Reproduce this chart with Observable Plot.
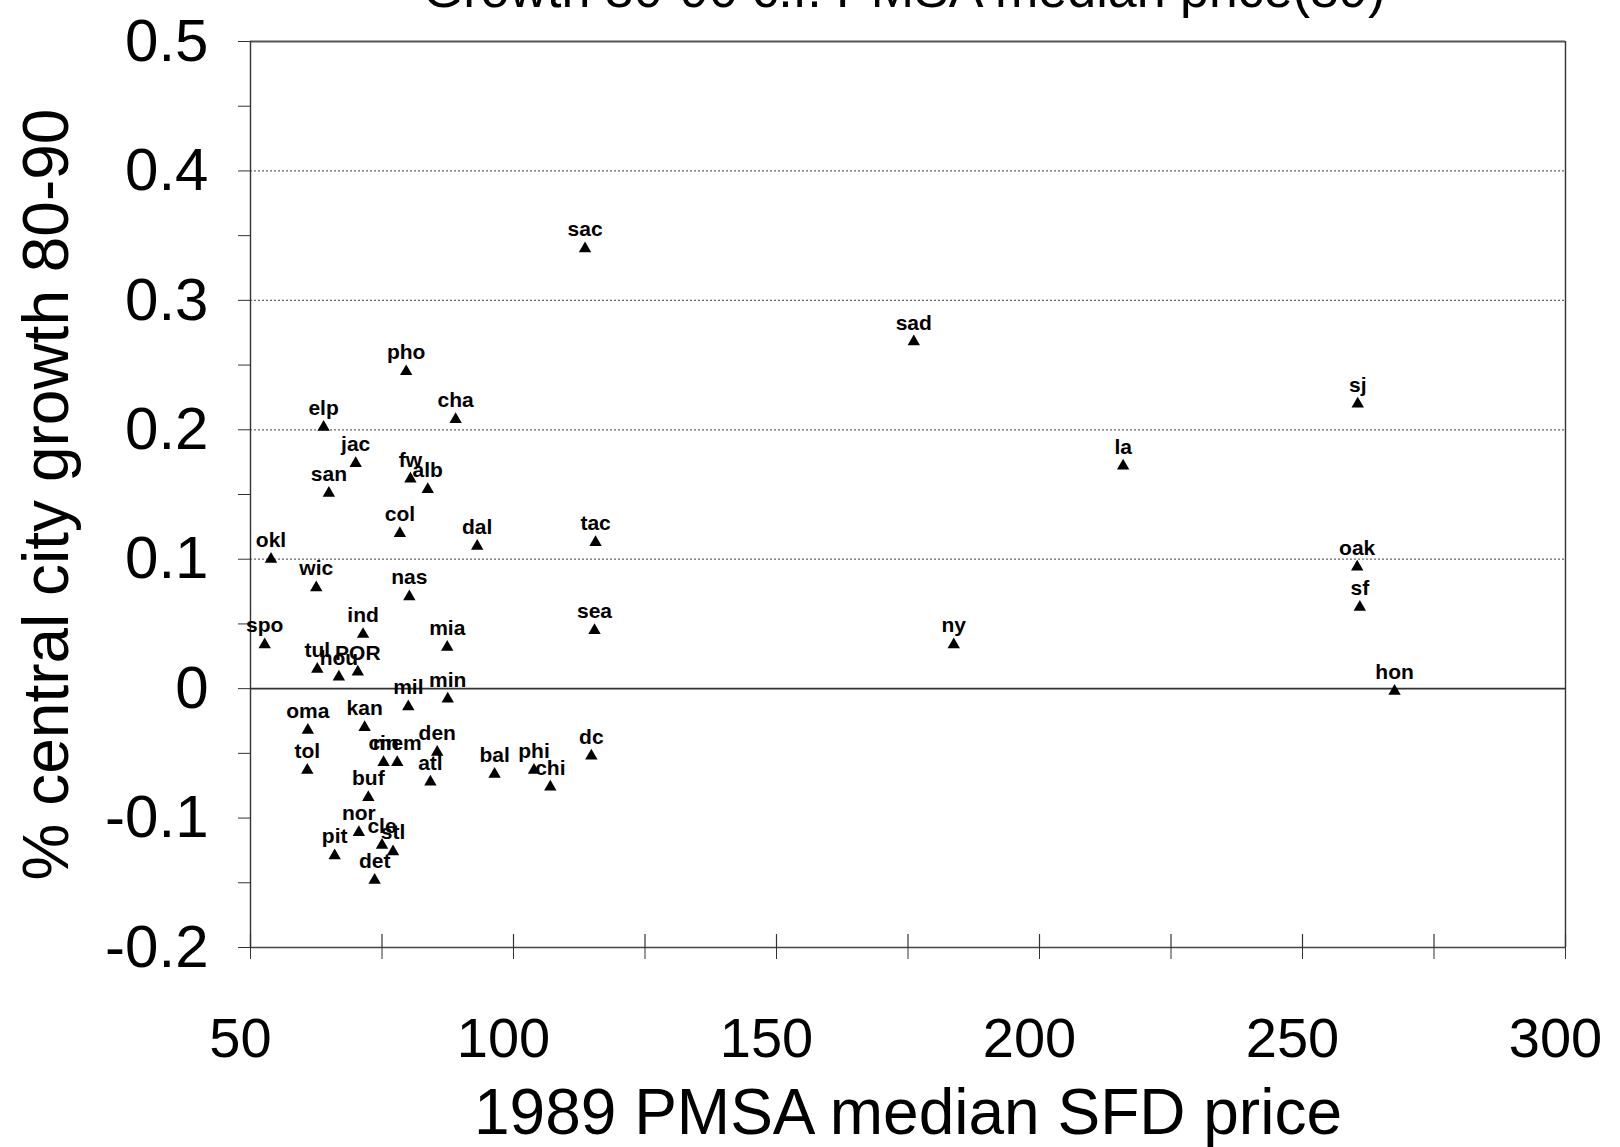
<!DOCTYPE html>
<html><head><meta charset="utf-8">
<script src="https://cdn.jsdelivr.net/npm/d3@7"></script>
<script src="https://cdn.jsdelivr.net/npm/@observablehq/plot@0.6"></script>
<style>
body{margin:0;background:#fff;overflow:hidden}
#wrap{position:relative;width:1620px;height:1147px;overflow:hidden;background:#fff}
#title{position:absolute;z-index:2;top:-37px;left:904px;transform:translateX(-50%);white-space:nowrap;font-family:'Liberation Sans',Arial,sans-serif;font-size:52px;line-height:52px;color:#000}
#chart{position:absolute;z-index:1;top:0;left:0}
</style></head><body>
<div id="wrap"><div id="title">Growth 80-90 c.f. PMSA median price(89)</div><div id="chart"></div></div>
<script>
const cities = ["sac","sad","pho","cha","elp","jac","fw","alb","san","col","dal","tac","okl","wic","nas","ind","spo","mia","sea","ny","tul","hou","POR","mil","min","oma","kan","cin","mem","den","atl","bal","phi","chi","dc","tol","buf","nor","cle","stl","pit","det","la","sj","oak","sf","hon"];
const price = [113.6,176.1,79.6,89.0,63.9,70.0,80.4,83.7,64.9,78.4,93.1,115.6,53.9,62.5,80.2,71.4,52.7,87.4,115.4,183.7,62.7,66.8,70.4,80.0,87.5,60.9,71.7,75.3,77.9,85.5,84.2,96.4,103.9,107.0,114.8,60.8,72.4,70.6,75.0,77.1,66.0,73.6,215.9,260.5,260.4,260.9,267.5];
const growth = [0.340,0.268,0.245,0.208,0.202,0.174,0.162,0.154,0.151,0.120,0.110,0.113,0.100,0.078,0.071,0.042,0.034,0.032,0.045,0.034,0.015,0.009,0.013,-0.014,-0.008,-0.032,-0.030,-0.057,-0.057,-0.049,-0.072,-0.066,-0.063,-0.076,-0.052,-0.063,-0.084,-0.111,-0.121,-0.126,-0.129,-0.148,0.172,0.220,0.094,0.063,-0.002];
const xTickLabels = [50,100,150,200,250,300];
const xMinorTicks = [75,125,175,225,275];
const yTickLabels = [-0.2,-0.1,0,0.1,0.2,0.3,0.4,0.5];
const yMinorTicks = [-0.15,-0.05,0.05,0.15,0.25,0.35,0.45];
const yGrid = [0.1,0.2,0.3,0.4];
const xTitle = "1989 PMSA median SFD price";
const yTitle = "% central city growth 80-90";

const data = cities.map((c,i)=>({city:c, price:price[i], growth:growth[i]}));
const xAll = xTickLabels.concat(xMinorTicks).sort((a,b)=>a-b);
const yAll = yTickLabels.concat(yMinorTicks).sort((a,b)=>a-b);

const chart = Plot.plot({
  width:1620, height:1147,
  marginLeft:250, marginRight:55, marginTop:41, marginBottom:200,
  style:{fontFamily:"'Liberation Sans', Arial, sans-serif", background:"transparent", color:"#000"},
  x:{domain:[50,300]},
  y:{domain:[-0.2,0.5]},
  marks:[
    Plot.ruleY(yGrid, {stroke:"#666", strokeDasharray:"2,2", strokeWidth:1.2}),
    Plot.ruleY([0], {stroke:"#333", strokeWidth:1.6}),
    Plot.ruleY([0.5], {stroke:"#555", strokeWidth:1.8}),
    Plot.ruleY([-0.2], {stroke:"#444", strokeWidth:1.6}),
    Plot.ruleX([50,300], {stroke:"#333", strokeWidth:1.4}),
    Plot.ruleX(xAll, {x:d=>d, y1:-0.2, y2:-0.19, stroke:"#333", strokeWidth:1.2}),
    Plot.axisX(xAll, {tickSize:12, label:null, stroke:"#333", tickFormat:()=>""}),
    Plot.axisX(xTickLabels, {tickSize:0, tickPadding:70, fontSize:56, dx:-10, label:null,
      tickFormat:d=>String(d)}),
    Plot.axisY(yAll, {tickSize:12, tickPadding:30, fontSize:60, label:null, stroke:"#333",
      tickFormat:d=>yTickLabels.includes(d) ? (d===0 ? "0" : String(d)) : ""}),
    Plot.text([xTitle], {frameAnchor:"bottom", dy:166, fontSize:64, lineAnchor:"middle", textAnchor:"middle", fill:"#000"}),
    Plot.text([yTitle], {frameAnchor:"left", dx:-203, rotate:-90, fontSize:64, lineAnchor:"middle", textAnchor:"middle", fill:"#000"}),
    Plot.dot(data, {x:"price", y:"growth", symbol:"triangle", r:4.6, fill:"#000", stroke:"none"}),
    Plot.text(data, {x:"price", y:"growth", text:"city", dy:-19, fontSize:21, fontWeight:"bold", fill:"#000"})
  ]
});
document.getElementById("chart").appendChild(chart);
</script>
</body></html>
